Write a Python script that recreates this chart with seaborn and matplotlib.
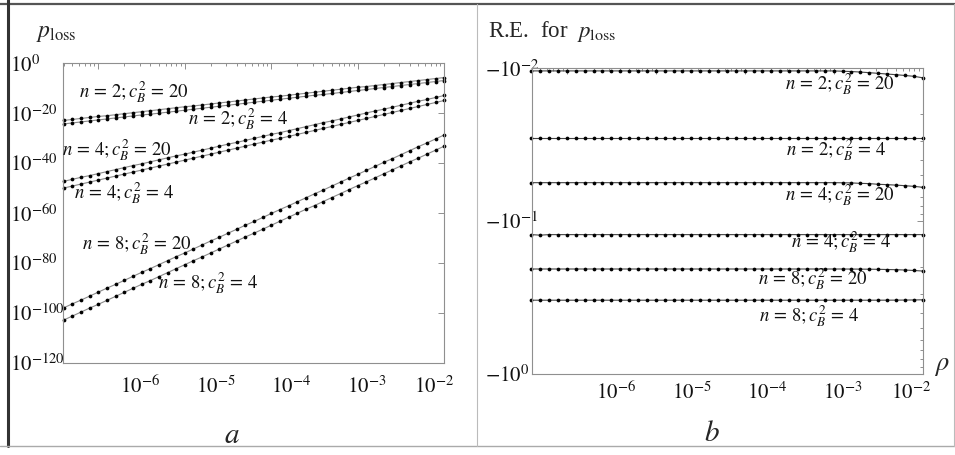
import numpy as np
import pandas as pd
import matplotlib
matplotlib.use('Agg')
import matplotlib.pyplot as plt
import seaborn as sns
from matplotlib.ticker import NullLocator, LogLocator
from matplotlib.lines import Line2D

sns.set_style('white')
plt.rcParams['font.family'] = ['Liberation Serif', 'DejaVu Serif']
plt.rcParams['mathtext.fontset'] = 'stix'

# ---------------- data ----------------
log_rho = [-6.4, -6.3, -6.2, -6.1, -6.0, -5.9, -5.8, -5.7, -5.6, -5.5,
           -5.4, -5.3, -5.2, -5.1, -5.0, -4.9, -4.8, -4.7, -4.6, -4.5,
           -4.4, -4.3, -4.2, -4.1, -4.0, -3.9, -3.8, -3.7, -3.6, -3.5,
           -3.4, -3.3, -3.2, -3.1, -3.0, -2.9, -2.8, -2.7, -2.6, -2.5,
           -2.4, -2.3, -2.2, -2.1, -2.0]

series_names = ["n2_c20", "n2_c4", "n4_c20", "n4_c4", "n8_c20", "n8_c4"]
series_labels = [r"$n\,=\,2;c_B^2\,=\,20$", r"$n\,=\,2;c_B^2\,=\,4$",
                 r"$n\,=\,4;c_B^2\,=\,20$", r"$n\,=\,4;c_B^2\,=\,4$",
                 r"$n\,=\,8;c_B^2\,=\,20$", r"$n\,=\,8;c_B^2\,=\,4$"]

# panel a: log10(p_loss)
logp_n2_c20 = [-22.9, -22.5, -22.1, -21.7, -21.3, -21.0, -20.6, -20.2, -19.8, -19.4,
               -19.0, -18.6, -18.2, -17.8, -17.4, -17.1, -16.7, -16.3, -15.9, -15.5,
               -15.1, -14.7, -14.3, -13.9, -13.5, -13.2, -12.8, -12.4, -12.0, -11.6,
               -11.2, -10.8, -10.4, -10.0, -9.6, -9.3, -8.9, -8.5, -8.1, -7.7,
               -7.3, -6.9, -6.5, -6.1, -5.7]
logp_n2_c4 = [-24.3, -23.9, -23.5, -23.1, -22.7, -22.3, -21.9, -21.5, -21.1, -20.7,
              -20.4, -20.0, -19.6, -19.2, -18.8, -18.4, -18.0, -17.6, -17.2, -16.8,
              -16.4, -16.0, -15.6, -15.2, -14.8, -14.4, -14.0, -13.6, -13.2, -12.8,
              -12.5, -12.1, -11.7, -11.3, -10.9, -10.5, -10.1, -9.7, -9.3, -8.9,
              -8.5, -8.1, -7.7, -7.3, -6.9]
logp_n4_c20 = [-47.3, -46.5, -45.7, -45.0, -44.2, -43.4, -42.6, -41.8, -41.0, -40.3,
               -39.5, -38.7, -37.9, -37.1, -36.4, -35.6, -34.8, -34.0, -33.2, -32.4,
               -31.7, -30.9, -30.1, -29.3, -28.5, -27.8, -27.0, -26.2, -25.4, -24.6,
               -23.8, -23.1, -22.3, -21.5, -20.7, -19.9, -19.1, -18.4, -17.6, -16.8,
               -16.0, -15.2, -14.5, -13.7, -12.9]
logp_n4_c4 = [-50.0, -49.2, -48.4, -47.6, -46.8, -46.0, -45.2, -44.4, -43.6, -42.8,
              -42.0, -41.2, -40.4, -39.6, -38.8, -38.0, -37.2, -36.4, -35.6, -34.8,
              -34.0, -33.2, -32.4, -31.6, -30.8, -30.1, -29.3, -28.5, -27.7, -26.9,
              -26.1, -25.3, -24.5, -23.7, -22.9, -22.1, -21.3, -20.5, -19.7, -18.9,
              -18.1, -17.3, -16.5, -15.7, -14.9]
logp_n8_c20 = [-98.0, -96.4, -94.9, -93.3, -91.7, -90.1, -88.6, -87.0, -85.4, -83.8,
               -82.3, -80.7, -79.1, -77.5, -76.0, -74.4, -72.8, -71.2, -69.7, -68.1,
               -66.5, -64.9, -63.4, -61.8, -60.2, -58.6, -57.1, -55.5, -53.9, -52.3,
               -50.8, -49.2, -47.6, -46.0, -44.5, -42.9, -41.3, -39.7, -38.2, -36.6,
               -35.0, -33.4, -31.9, -30.3, -28.7]
logp_n8_c4 = [-102.9, -101.3, -99.7, -98.1, -96.6, -95.0, -93.4, -91.8, -90.2, -88.6,
              -87.1, -85.5, -83.9, -82.3, -80.7, -79.1, -77.6, -76.0, -74.4, -72.8,
              -71.2, -69.6, -68.1, -66.5, -64.9, -63.3, -61.7, -60.1, -58.5, -57.0,
              -55.4, -53.8, -52.2, -50.6, -49.0, -47.5, -45.9, -44.3, -42.7, -41.1,
              -39.5, -38.0, -36.4, -34.8, -33.2]

# panel b: relative error for p_loss (negative values)
re_n2_c20 = [-0.0104, -0.0104, -0.0104, -0.0104, -0.0104, -0.0104, -0.0104, -0.0104, -0.0104, -0.0104,
             -0.0104, -0.0104, -0.0104, -0.0104, -0.0104, -0.0104, -0.0104, -0.0104, -0.0104, -0.0104,
             -0.0104, -0.0104, -0.0104, -0.0104, -0.0104, -0.0104, -0.0104, -0.0104, -0.0104, -0.0104,
             -0.0104, -0.0104, -0.0104, -0.0104, -0.0104, -0.01045, -0.0105, -0.01058, -0.01068, -0.01079,
             -0.0109, -0.01101, -0.01114, -0.01128, -0.01153]
re_n2_c4 = [-0.0284, -0.0284, -0.0284, -0.0284, -0.0284, -0.0284, -0.0284, -0.0284, -0.0284, -0.0284,
            -0.0284, -0.0284, -0.0284, -0.0284, -0.0284, -0.0284, -0.0284, -0.0284, -0.0284, -0.0284,
            -0.0284, -0.0284, -0.0284, -0.0284, -0.0284, -0.0284, -0.0284, -0.0284, -0.0284, -0.0284,
            -0.0284, -0.0284, -0.0284, -0.0284, -0.0284, -0.0284, -0.0284, -0.0284, -0.0284, -0.0284,
            -0.0284, -0.0284, -0.0284, -0.0284, -0.0284]
re_n4_c20 = [-0.0560, -0.0560, -0.0560, -0.0560, -0.0560, -0.0560, -0.0560, -0.0560, -0.0560, -0.0560,
             -0.0560, -0.0560, -0.0560, -0.0560, -0.0560, -0.0560, -0.0560, -0.0560, -0.0560, -0.0560,
             -0.0560, -0.0560, -0.0560, -0.0560, -0.0560, -0.0560, -0.0560, -0.0560, -0.0560, -0.0560,
             -0.0560, -0.0560, -0.0560, -0.0560, -0.0560, -0.0561, -0.0562, -0.0566, -0.0568, -0.0574,
             -0.0577, -0.0581, -0.0586, -0.0592, -0.0600]
re_n4_c4 = [-0.1225, -0.1235, -0.1225, -0.1225, -0.1225, -0.1225, -0.1225, -0.1225, -0.1225, -0.1225,
            -0.1225, -0.1225, -0.1225, -0.1225, -0.1225, -0.1225, -0.1225, -0.1225, -0.1225, -0.1225,
            -0.1225, -0.1225, -0.1225, -0.1225, -0.1225, -0.1225, -0.1225, -0.1225, -0.1225, -0.1225,
            -0.1225, -0.1225, -0.1225, -0.1225, -0.1225, -0.1225, -0.1225, -0.1225, -0.1225, -0.1225,
            -0.1225, -0.1225, -0.1225, -0.1225, -0.1225]
re_n8_c20 = [-0.2056, -0.2056, -0.2056, -0.2056, -0.2056, -0.2056, -0.2056, -0.2056, -0.2056, -0.2056,
             -0.2056, -0.2056, -0.2056, -0.2056, -0.2056, -0.2056, -0.2056, -0.2056, -0.2056, -0.2056,
             -0.2056, -0.2056, -0.2056, -0.2056, -0.2056, -0.2056, -0.2056, -0.2056, -0.2056, -0.2056,
             -0.2056, -0.2056, -0.2056, -0.2056, -0.2056, -0.2056, -0.2058, -0.2060, -0.2062, -0.2066,
             -0.2072, -0.2078, -0.2088, -0.2102, -0.2120]
re_n8_c4 = [-0.329, -0.329, -0.329, -0.329, -0.329, -0.329, -0.329, -0.329, -0.329, -0.329,
            -0.329, -0.329, -0.329, -0.329, -0.329, -0.329, -0.329, -0.329, -0.329, -0.329,
            -0.329, -0.329, -0.329, -0.329, -0.329, -0.329, -0.329, -0.329, -0.329, -0.329,
            -0.329, -0.329, -0.329, -0.329, -0.329, -0.329, -0.329, -0.329, -0.329, -0.3289,
            -0.3288, -0.3286, -0.3283, -0.3278, -0.3270]

x_tick_labels = [r"$10^{-6}$", r"$10^{-5}$", r"$10^{-4}$", r"$10^{-3}$", r"$10^{-2}$"]
yL_ticks = [1e0, 1e-20, 1e-40, 1e-60, 1e-80, 1e-100, 1e-120]
yL_labels = [r"$10^{0}$", r"$10^{-20}$", r"$10^{-40}$", r"$10^{-60}$",
             r"$10^{-80}$", r"$10^{-100}$", r"$10^{-120}$"]
yR_ticks = [1e-2, 1e-1, 1e0]
yR_labels = [r"$-10^{-2}$", r"$-10^{-1}$", r"$-10^{0}$"]

rho = 10.0 ** np.array(log_rho)
logp = [logp_n2_c20, logp_n2_c4, logp_n4_c20, logp_n4_c4, logp_n8_c20, logp_n8_c4]
re = [re_n2_c20, re_n2_c4, re_n4_c20, re_n4_c4, re_n8_c20, re_n8_c4]

rows = []
for name, lp, r in zip(series_names, logp, re):
    for xv, a, b in zip(rho, lp, r):
        rows.append({"series": name, "rho": xv, "p": 10.0 ** a, "re": b})
df = pd.DataFrame(rows)
df["abs_re"] = -df["re"]

# ---------------- layout ----------------
W, H = 955, 455
fig = plt.figure(figsize=(W / 100, H / 100), dpi=100)
axL = fig.add_axes([63.3 / W, 1 - 362.7 / H, (444.3 - 63.3) / W, (362.7 - 63.3) / H])
axR = fig.add_axes([531.7 / W, 1 - 374 / H, (922.7 - 531.7) / W, (374 - 68.3) / H])

spine_col = "#8f8f8f"
for ax in (axL, axR):
    ax.set_xscale("log")
    ax.set_yscale("log")
    ax.set_facecolor("white")
    for sp in ax.spines.values():
        sp.set_color(spine_col)
        sp.set_linewidth(0.8)

# panel a
for name in series_names:
    d = df[df["series"] == name]
    sns.lineplot(data=d, x="rho", y="p", ax=axL, color="#8a8a8a", linewidth=0.8,
                 marker="o", markersize=2.7, markerfacecolor="black",
                 markeredgecolor="black", markeredgewidth=0, estimator=None,
                 sort=False, clip_on=False, legend=False)
axL.set_xlim(10 ** -6.405, 1.0e-2)
axL.set_ylim(1e-120, 1e0)
axL.set_yticks(yL_ticks, yL_labels)
axL.yaxis.set_minor_locator(NullLocator())

# panel b
for name in series_names:
    d = df[df["series"] == name]
    sns.lineplot(data=d, x="rho", y="abs_re", ax=axR, color="#444444", linewidth=0.8,
                 marker="o", markersize=2.7, markerfacecolor="black",
                 markeredgecolor="black", markeredgewidth=0, estimator=None,
                 sort=False, clip_on=False, legend=False)
axR.set_xlim(10 ** -6.395, 1.003e-2)
axR.set_ylim(1e0, 1e-2)
axR.set_yticks(yR_ticks, yR_labels)
axR.yaxis.set_minor_locator(LogLocator(base=10, subs=np.arange(2, 10)))

for ax, ypad in ((axL, 38.4), (axR, 33.6)):
    ax.set_xlabel("")
    ax.set_ylabel("")
    ax.xaxis.set_major_locator(LogLocator(base=10, numticks=20))
    ax.xaxis.set_minor_locator(LogLocator(base=10, subs=np.arange(2, 10), numticks=20))
    ax.tick_params(which="both", direction="in", top=True, right=True,
                   color=spine_col, width=0.7, labelbottom=False)
    ax.tick_params(which="major", length=4)
    ax.tick_params(which="minor", length=2.2)
    ax.tick_params(axis="y", which="both", labelsize=15, pad=ypad, labelcolor="#111111")
    for lab in ax.get_yticklabels():
        lab.set_horizontalalignment("left")

# x labels (drawn slightly offset from tick marks, as in the original)
xlabel_pos_L = [10 ** -5.518, 10 ** -4.647, 10 ** -3.774, 10 ** -2.897, 10 ** -2.121]
xlabel_pos_R = [10 ** -5.450, 10 ** -4.599, 10 ** -3.746, 10 ** -2.898, 10 ** -2.132]
for ax, pos, pad in ((axL, xlabel_pos_L, 9.6), (axR, xlabel_pos_R, 5.8)):
    sec = ax.secondary_xaxis("bottom")
    sec.set_xticks(pos, x_tick_labels)
    sec.xaxis.set_minor_locator(NullLocator())
    sec.tick_params(length=0, labelsize=15, pad=pad, labelcolor="#111111")
    sec.spines["bottom"].set_visible(False)

# series annotations
ann_L = [(134, 92), (238, 119), (117, 150), (124, 193), (137, 244), (208, 283)]
ann_R = [(840, 84), (836, 150), (840, 195), (841, 242), (813, 279), (809, 316)]
for lab, (xa, ya), (xb, yb) in zip(series_labels, ann_L, ann_R):
    fig.text(xa / W, 1 - ya / H, lab, fontsize=13.5, ha="center", va="center", color="#111111")
    fig.text(xb / W, 1 - yb / H, lab, fontsize=13.5, ha="center", va="center", color="#111111")

fig.text(36 / W, 1 - 33 / H, r"$p_{\rm loss}$", fontsize=17, ha="left", va="center")
fig.text(488 / W, 1 - 32 / H, r"R.E.  for  $p_{\rm loss}$", fontsize=16.5, ha="left", va="center")
fig.text(942 / W, 1 - 367 / H, r"$\rho$", fontsize=19, ha="center", va="center")
fig.text(232 / W, 1 - 436 / H, r"$a$", fontsize=21, ha="center", va="center")
fig.text(712 / W, 1 - 434 / H, r"$b$", fontsize=21, ha="center", va="center")

# outer frame
def fline(x0, y0, x1, y1, col, lw):
    fig.add_artist(Line2D([x0 / W, x1 / W], [1 - y0 / H, 1 - y1 / H],
                          transform=fig.transFigure, color=col, linewidth=lw))

fline(0, 4, W, 4, "#555555", 1.6)
fline(8, 0, 8, 446, "#333333", 2.2)
fline(0, 445.5, W, 445.5, "#aaaaaa", 1.0)
fline(477, 4, 477, 446, "#bbbbbb", 0.8)
fline(954, 4, 954, 446, "#bbbbbb", 0.8)

fig.savefig("out.png", dpi=100, facecolor="white")
